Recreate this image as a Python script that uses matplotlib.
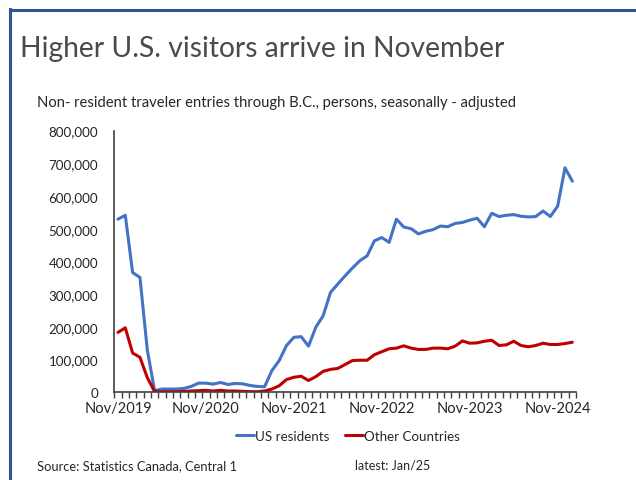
import matplotlib
matplotlib.use("Agg")
import matplotlib.pyplot as plt
from matplotlib.lines import Line2D
import pandas as pd

# ---- data ----
months = pd.date_range("2019-11-01", "2025-01-01", freq="MS")
tick_labels = ["Nov/2019", "Nov/2020", "Nov-2021", "Nov-2022", "Nov-2023", "Nov-2024"]
y_ticks = [0, 100000, 200000, 300000, 400000, 500000, 600000, 700000, 800000]

us_residents_k = [529, 541, 366, 351, 130, 5, 10, 10, 10, 12, 18, 28, 28, 25, 30, 24,
                  27, 26, 21, 18, 17, 66, 97, 143, 168, 170, 141, 199, 234, 305, 331,
                  356, 380, 402, 417, 463, 473, 458, 529, 505, 500, 484, 492, 497, 508,
                  506, 516, 519, 526, 532, 506, 547, 537, 541, 543, 538, 536, 537, 554,
                  537, 569, 686, 645]
other_countries_k = [183, 197, 120, 107, 45, 2, 2, 2, 2, 3, 4, 5, 6, 4, 6, 4, 4, 3, 2,
                     2, 4, 10, 20, 39, 46, 49, 36, 48, 64, 70, 73, 85, 97, 98, 98, 115,
                     124, 133, 135, 142, 135, 131, 131, 135, 135, 133, 141, 157, 150,
                     151, 156, 159, 143, 145, 156, 143, 139, 143, 150, 146, 146, 149, 153]

us_residents = [v * 1000 for v in us_residents_k]
other_countries = [v * 1000 for v in other_countries_k]

# ---- figure ----
W, H = 636, 481
plt.rcParams["font.family"] = ["Lato", "DejaVu Sans"]
fig = plt.figure(figsize=(W / 100, H / 100), dpi=100)
fig.patch.set_facecolor("white")

def fx(px):
    return px / W

def fy(py):
    return 1 - py / H

# frame lines (top and left)
border = "#2F5597"
fig.add_artist(Line2D([fx(9.5), 1.0], [fy(11), fy(11)], color=border, lw=2.2))
fig.add_artist(Line2D([fx(9.5), fx(9.5)], [fy(10), 0.0], color=border, lw=2.2))

txt = "#262626"
x0, x1 = 114.3, 576.0
ytop, ybot = 131.5, 393.3
ax = fig.add_axes([fx(x0), fy(ybot), fx(x1) - fx(x0), fy(ytop) - fy(ybot)])

n = len(months)
xs = list(range(n))
ax.plot(xs, us_residents, color="#4472C4", lw=2.2, label="US residents",
        solid_joinstyle="round", solid_capstyle="round")
ax.plot(xs, other_countries, color="#C00000", lw=2.2, label="Other Countries",
        solid_joinstyle="round", solid_capstyle="round")

ax.set_xlim(-0.5, n - 0.5)
ax.set_ylim(0, 800000)
ax.set_yticks(y_ticks)
ax.set_yticklabels([f"{v:,}" for v in y_ticks])
ax.tick_params(axis="y", length=0, pad=11.5, labelsize=9.6, labelcolor=txt)

label_pos = [i for i, m in enumerate(months) if m.month == 11]
ax.set_xticks(label_pos)
ax.set_xticklabels(tick_labels)
ax.set_xticks([i - 0.5 for i in range(n + 1)], minor=True)
ax.tick_params(axis="x", which="major", length=0, pad=6, labelsize=10.5, labelcolor=txt)
ax.tick_params(axis="x", which="minor", length=4, width=1.0, color="#404040", direction="out")

for s in ["top", "right"]:
    ax.spines[s].set_visible(False)
for s in ["left", "bottom"]:
    ax.spines[s].set_color("#404040")
    ax.spines[s].set_linewidth(1.2)
ax.set_facecolor("none")

# texts
fig.text(fx(20), fy(49), "Higher U.S. visitors arrive in November", fontsize=20.3,
         color="#4a4a4a", fontweight="normal", va="center", ha="left")
fig.text(fx(37), fy(103), "Non- resident traveler entries through B.C., persons, seasonally - adjusted",
         fontsize=10.6, color=txt, va="center", ha="left")
fig.text(fx(37), fy(466), "Source: Statistics Canada, Central 1", fontsize=9.3,
         color=txt, va="center", ha="left")
fig.text(fx(355), fy(466), "latest: Jan/25", fontsize=9.0, color=txt, va="center", ha="left")

fig.legend(loc="center", bbox_to_anchor=(fx(348), fy(437)), ncol=2, frameon=False,
           fontsize=9.6, handlelength=1.3, handletextpad=0.1, columnspacing=1.2,
           labelcolor=txt)

fig.savefig("out.png", dpi=100)
